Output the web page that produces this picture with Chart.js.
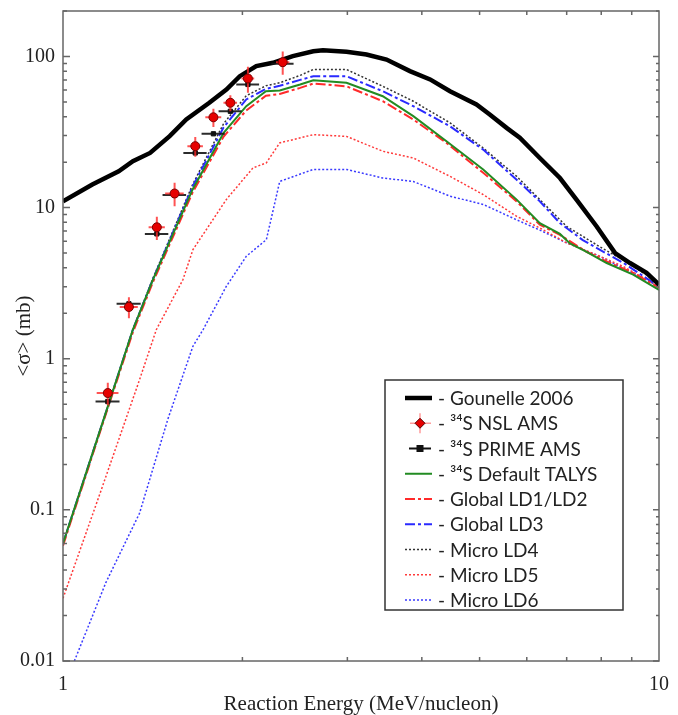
<!DOCTYPE html>
<html>
<head>
    <title>34S cross sections vs reaction energy</title>
    <script src="https://cdn.jsdelivr.net/npm/chart.js"></script>
    <style>
        body { margin: 0; background: #fff; }
        #chartContainer { width: 678px; height: 715px; }
    </style>
</head>
<body>
    <div id="chartContainer">
        <canvas id="myChart" width="678" height="715"></canvas>
    </div>

    <script>
        // series names, in legend order
        const seriesNames = ['Gounelle 2006', '³⁴S NSL AMS', '³⁴S PRIME AMS', '³⁴S Default TALYS',
            'Global LD1/LD2', 'Global LD3', 'Micro LD4', 'Micro LD5', 'Micro LD6'];

        // Gounelle 2006
        const gounelleE  = [1.0, 1.12, 1.24, 1.31, 1.40, 1.51, 1.61, 1.76, 1.88, 1.98, 2.11, 2.25, 2.43, 2.63, 2.73,
                            2.99, 3.23, 3.49, 3.82, 4.13, 4.46, 4.94, 5.20, 5.55, 5.84, 6.31, 6.82, 7.27, 7.86, 8.44, 8.94, 9.53, 10.0];
        const gounelleXS = [11.0, 14.2, 17.4, 20.3, 23.0, 29.7, 38.3, 49.4, 60.5, 74.1, 86.3, 90.8, 100.5, 108.4, 110,
                            107.4, 103, 95.5, 80, 70.5, 58.9, 48.1, 41.3, 33.7, 29.0, 21.3, 15.7, 11.3, 7.5, 5.0, 4.3, 3.7, 3.1];

        // measured points
        const nslE     = [1.189, 1.290, 1.437, 1.539, 1.667, 1.788, 1.909, 2.043, 2.337];
        const nslXS    = [0.593, 2.20, 7.41, 12.4, 25.5, 39.6, 49.4, 71.5, 91.7];
        const nslEErr  = [0.05, 0.045, 0.045, 0.055, 0.05, 0.055, 0.05, 0.05, 0.06];
        const nslXSErr = [0.10, 0.35, 1.3, 2.2, 3.8, 5.5, 6.0, 14, 16];
        const primeE    = [1.189, 1.290, 1.437, 1.539, 1.667, 1.788, 1.909, 2.043, 2.337];
        const primeXS   = [0.521, 2.31, 6.70, 12.1, 23.0, 30.8, 43.4, 65.3, 89.5];
        const primeEErr = [0.055, 0.06, 0.065, 0.07, 0.075, 0.08, 0.085, 0.09, 0.1];

        // TALYS calculations
        const talysE  = [1.0, 1.18, 1.31, 1.415, 1.65, 1.86, 2.03, 2.19, 2.31, 2.50, 2.63, 2.99, 3.44, 3.87, 4.40,
                         5.07, 5.77, 6.31, 6.82, 7.09, 7.56, 8.17, 9.05, 10.0];
        const talysXS = [0.060, 0.44, 1.56, 3.33, 13.2, 31.3, 46.9, 58.9, 59.5, 65.3, 69.7, 67, 54.6, 40.3, 27.5,
                         17.9, 11.3, 7.9, 6.7, 5.8, 5.1, 4.3, 3.6, 2.85];
        const ld12E  = [1.0, 1.18, 1.31, 1.415, 1.65, 1.86, 2.03, 2.19, 2.31, 2.50, 2.63, 2.99, 3.44, 3.87, 4.40,
                        5.07, 5.77, 6.31, 6.82, 7.56, 8.17, 9.05, 10.0];
        const ld12XS = [0.058, 0.43, 1.5, 3.2, 12.6, 29.5, 44, 55, 56.5, 62, 66.2, 63.5, 50.6, 38.3, 26.8,
                        17.0, 11.0, 7.7, 6.6, 5.1, 4.4, 3.7, 2.95];
        const ld3E  = [1.0, 1.18, 1.31, 1.415, 1.65, 1.86, 2.03, 2.19, 2.31, 2.50, 2.63, 2.99, 3.44, 3.87, 4.46,
                       5.07, 5.77, 6.31, 6.82, 7.45, 8.07, 8.72, 10.0];
        const ld3XS = [0.06, 0.44, 1.56, 3.35, 13.8, 34, 52, 61, 64, 70, 74, 74, 58.9, 46.9, 34.5,
                       24.2, 15.3, 11, 7.9, 6.1, 5.1, 4.3, 3.0];
        const ld4E  = [1.0, 1.18, 1.31, 1.415, 1.65, 1.86, 2.03, 2.19, 2.31, 2.50, 2.63, 2.99, 3.44, 3.87, 4.46,
                       5.07, 5.77, 6.31, 7.0, 7.96, 8.71, 10.0];
        const ld4XS = [0.06, 0.44, 1.56, 3.4, 14.2, 36, 55, 64, 67, 75, 82, 82, 63.5, 50.6, 36.4,
                       24.8, 16.1, 11.3, 7.5, 5.5, 4.5, 3.17];
        const ld5E  = [1.0, 1.155, 1.344, 1.434, 1.589, 1.652, 1.879, 2.083, 2.194, 2.31, 2.63, 2.99, 3.44, 3.87,
                       4.46, 5.07, 5.77, 6.31, 7.0, 7.96, 8.71, 10.0];
        const ld5XS = [0.026, 0.13, 0.726, 1.556, 3.33, 5.27, 11.3, 18.3, 19.8, 26.8, 30.4, 29.6, 23.6, 21.3,
                       16.1, 12.2, 8.76, 7.33, 5.84, 4.76, 4.08, 3.0];
        const ld6E  = [1.045, 1.18, 1.344, 1.5, 1.652, 1.718, 1.879, 2.03, 2.194, 2.31, 2.63, 2.99, 3.44, 3.87,
                       4.46, 5.07, 5.77, 6.31, 7.0, 7.96, 10.0];
        const ld6XS = [0.01, 0.033, 0.095, 0.40, 1.21, 1.556, 3.01, 4.76, 6.14, 14.9, 17.9, 17.9, 15.7, 14.9,
                       11.9, 10.5, 8.3, 7.1, 5.84, 4.76, 3.0];

        // axis ticks
        const xTicks = [1, 10];
        const yTicks = [0.01, 0.1, 1, 10, 100];

        const pts = (xs, ys) => xs.map((x, i) => ({ x: x, y: ys[i] }));

        function curve(label, xs, ys, color, width, dash) {
            return {
                label: label,
                data: pts(xs, ys),
                borderColor: color,
                borderWidth: width,
                borderDash: dash,
                pointRadius: 0,
                tension: 0,
                fill: false,
                order: 1
            };
        }

        const datasets = [
            curve(seriesNames[0], gounelleE, gounelleXS, '#000', 4.5, []),
            {
                label: seriesNames[1], data: pts(nslE, nslXS), showLine: false,
                pointStyle: 'circle', pointRadius: 4.5, backgroundColor: '#e60000',
                borderColor: '#7a0000', borderWidth: 1, order: 0
            },
            {
                label: seriesNames[2], data: pts(primeE, primeXS), showLine: false,
                pointStyle: 'rect', pointRadius: 3, backgroundColor: '#111',
                borderColor: '#111', borderWidth: 1, order: 0
            },
            curve(seriesNames[3], talysE, talysXS, '#228b22', 2, []),
            curve(seriesNames[4], ld12E, ld12XS, '#ff2a2a', 2, [10, 3, 3, 3]),
            curve(seriesNames[5], ld3E, ld3XS, '#2a2aff', 2, [10, 3, 3, 3]),
            curve(seriesNames[6], ld4E, ld4XS, '#333', 1.5, [2, 2]),
            curve(seriesNames[7], ld5E, ld5XS, '#ff3a3a', 1.5, [2, 2]),
            curve(seriesNames[8], ld6E, ld6XS, '#3a3aff', 1.5, [2, 2])
        ];

        // error bars, drawn just before the marker datasets
        const errorBars = {
            id: 'errorBars',
            beforeDatasetDraw(chart, args) {
                const { ctx, scales: { x, y } } = chart;
                ctx.save();
                ctx.lineWidth = 2;
                if (args.index === 1) {
                    ctx.strokeStyle = 'rgba(255,40,40,0.8)';
                    ctx.beginPath();
                    nslE.forEach((e, i) => {
                        const px = x.getPixelForValue(e), py = y.getPixelForValue(nslXS[i]);
                        ctx.moveTo(px, y.getPixelForValue(nslXS[i] - nslXSErr[i]));
                        ctx.lineTo(px, y.getPixelForValue(nslXS[i] + nslXSErr[i]));
                        ctx.moveTo(x.getPixelForValue(e - nslEErr[i]), py);
                        ctx.lineTo(x.getPixelForValue(e + nslEErr[i]), py);
                    });
                    ctx.stroke();
                }
                if (args.index === 2) {
                    ctx.strokeStyle = 'rgba(20,20,20,0.9)';
                    ctx.beginPath();
                    primeE.forEach((e, i) => {
                        const py = y.getPixelForValue(primeXS[i]);
                        ctx.moveTo(x.getPixelForValue(e - primeEErr[i]), py);
                        ctx.lineTo(x.getPixelForValue(e + primeEErr[i]), py);
                    });
                    ctx.stroke();
                }
                ctx.restore();
            }
        };

        // box frame with inward ticks on all four sides
        const frame = {
            id: 'frame',
            afterDraw(chart) {
                const { ctx, chartArea: a, scales: { x, y } } = chart;
                ctx.save();
                ctx.strokeStyle = '#666';
                ctx.lineWidth = 1.5;
                ctx.strokeRect(a.left, a.top, a.right - a.left, a.bottom - a.top);
                ctx.beginPath();
                for (let m = 2; m <= 9; m++) {
                    const p = x.getPixelForValue(m);
                    ctx.moveTo(p, a.bottom); ctx.lineTo(p, a.bottom - 4);
                    ctx.moveTo(p, a.top); ctx.lineTo(p, a.top + 4);
                }
                yTicks.forEach(d => {
                    for (let m = 1; m <= 9; m++) {
                        const v = d * m;
                        if (v > y.max) break;
                        const p = y.getPixelForValue(v);
                        const len = m === 1 ? 7 : 4;
                        ctx.moveTo(a.left, p); ctx.lineTo(a.left + len, p);
                        ctx.moveTo(a.right, p); ctx.lineTo(a.right - len + 1, p);
                    }
                });
                ctx.stroke();
                ctx.restore();
            }
        };

        // legend box inside the plot
        const boxLegend = {
            id: 'boxLegend',
            afterDraw(chart) {
                const ctx = chart.ctx;
                const bx = 385, by = 380, bw = 238, bh = 230;
                ctx.save();
                ctx.fillStyle = '#fff';
                ctx.fillRect(bx, by, bw, bh);
                ctx.strokeStyle = '#333';
                ctx.lineWidth = 1.5;
                ctx.strokeRect(bx, by, bw, bh);
                chart.data.datasets.forEach((ds, i) => {
                    const ry = 398 + i * 25.25;
                    if (ds.showLine === false) {
                        if (i === 1) {
                            ctx.strokeStyle = 'rgba(255,90,90,0.6)';
                            ctx.lineWidth = 1.5;
                            ctx.setLineDash([]);
                            ctx.beginPath();
                            ctx.moveTo(410, ry); ctx.lineTo(431, ry);
                            ctx.moveTo(420, ry - 10); ctx.lineTo(420, ry + 10);
                            ctx.stroke();
                            ctx.fillStyle = '#e60000';
                            ctx.strokeStyle = '#500';
                            ctx.lineWidth = 1;
                            Chart.helpers.drawPoint(ctx, { pointStyle: 'rectRot', radius: 5, borderWidth: 1 }, 420, ry);
                        } else {
                            ctx.strokeStyle = '#111';
                            ctx.lineWidth = 2;
                            ctx.setLineDash([]);
                            ctx.beginPath();
                            ctx.moveTo(409, ry); ctx.lineTo(431, ry);
                            ctx.stroke();
                            ctx.fillStyle = '#111';
                            ctx.fillRect(416.5, ry - 3.5, 7, 7);
                        }
                    } else {
                        ctx.strokeStyle = ds.borderColor;
                        ctx.lineWidth = ds.borderWidth;
                        ctx.setLineDash(ds.borderDash);
                        ctx.beginPath();
                        ctx.moveTo(405, ry); ctx.lineTo(432, ry);
                        ctx.stroke();
                    }
                    ctx.setLineDash([]);
                    ctx.fillStyle = '#222';
                    ctx.font = '19px Lato';
                    ctx.textBaseline = 'middle';
                    ctx.textAlign = 'left';
                    ctx.fillText('- ' + ds.label, 438, ry + 1);
                });
                ctx.restore();
            }
        };

        const serif = 'Liberation Serif';

        const config = {
            type: 'line',
            data: { datasets: datasets },
            options: {
                responsive: false,
                animation: false,
                layout: { padding: { left: 0, right: 19, top: 11, bottom: 0 } },
                plugins: {
                    legend: { display: false },
                    tooltip: { enabled: false }
                },
                scales: {
                    x: {
                        type: 'logarithmic',
                        min: 1,
                        max: 10,
                        grid: { display: false, drawTicks: false },
                        border: { display: false },
                        afterBuildTicks: s => { s.ticks = xTicks.map(v => ({ value: v })); },
                        afterFit: s => { s.height = 54; s.paddingLeft = 0; s.paddingRight = 0; },
                        ticks: {
                            font: { family: serif, size: 20 },
                            color: '#222',
                            padding: 12,
                            maxRotation: 0,
                            autoSkip: false,
                            callback: v => String(v)
                        },
                        title: {
                            display: true,
                            text: 'Reaction Energy (MeV/nucleon)',
                            font: { family: serif, size: 21, lineHeight: 1 },
                            color: '#222',
                            padding: { top: 0, bottom: 0 }
                        }
                    },
                    y: {
                        type: 'logarithmic',
                        min: 0.01,
                        max: 200,
                        grid: { display: false, drawTicks: false },
                        border: { display: false },
                        afterBuildTicks: s => { s.ticks = yTicks.map(v => ({ value: v })); },
                        afterFit: s => { s.width = 63; s.paddingTop = 0; s.paddingBottom = 0; },
                        ticks: {
                            font: { family: serif, size: 20 },
                            color: '#222',
                            padding: 8,
                            autoSkip: false,
                            callback: v => String(v)
                        },
                        title: {
                            display: true,
                            text: '<σ> (mb)',
                            font: { family: serif, size: 21 },
                            color: '#222',
                            padding: { top: 12, bottom: 0 }
                        }
                    }
                }
            },
            plugins: [errorBars, frame, boxLegend]
        };

        const myChart = new Chart(document.getElementById('myChart').getContext('2d'), config);
    </script>
</body>
</html>
